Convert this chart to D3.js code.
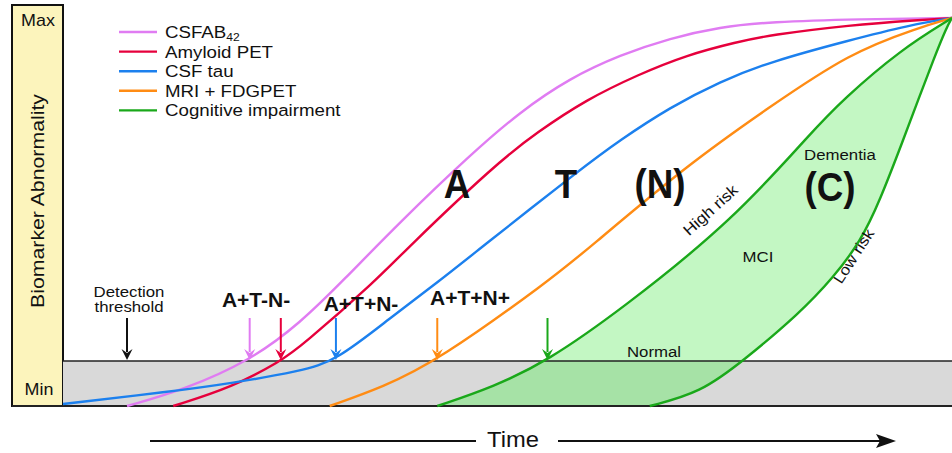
<!DOCTYPE html>
<html>
<head>
<meta charset="utf-8">
<style>
  body { margin: 0; background: #fff; }
  svg { display: block; font-family: "Liberation Sans", Arial, sans-serif; }
</style>
<script src="https://cdn.jsdelivr.net/npm/d3@7"></script>
</head>
<body>
<svg width="952" height="453"></svg>
<script>
// --- data (time 0..100, abnormality 0=min .. 100=max) ---
var seriesNames = ["CSFAB42", "Amyloid PET", "CSF tau", "MRI + FDGPET", "Cognitive impairment"];
var seriesColors = ["#e07cf2", "#e6003c", "#1c80ee", "#ff8c14", "#1aa81a"];
var threshold = 11.6;

var csfAb42 = [[7.2,0],[13.5,4.1],[21.0,11.6],[26.7,21.4],[31.5,32.3],[37.9,47.4],[45.8,64.7],[51.4,75.8],[57.0,84.5],[62.7,90.5],[68.3,94.8],[73.9,97.7],[79.5,99.0],[89.7,99.7],[100,100]];
var amyloidPet = [[12.4,0],[19.1,4.9],[24.5,11.6],[26.7,15.2],[35.3,32.5],[38.5,40.2],[48.8,62.6],[53.3,70.5],[58.9,79.0],[64.6,85.3],[70.2,90.5],[75.8,93.8],[79.5,95.6],[88.5,98.2],[96.4,99.5],[100,100]];
var csfTau = [[0,0.5],[11.7,3.6],[19.1,5.9],[26.7,9.0],[30.7,11.6],[36.8,22.7],[42.5,32.5],[46.7,40.2],[58.2,61.0],[62.7,68.6],[68.3,77.0],[73.9,83.6],[79.5,88.7],[88.5,94.3],[95.3,98.2],[100,100]];
var mriFdg = [[30.0,0],[36.0,4.9],[42.1,11.6],[54.8,32.5],[58.9,40.2],[70.2,62.1],[79.5,77.1],[88.5,91.0],[96.1,97.4],[100,100]];
var cogHighRisk = [[42.1,0],[48.4,4.9],[54.5,11.6],[62.7,24.7],[75.4,47.9],[84.4,71.1],[87.7,78.9],[94.2,91.8],[100,100]];
var cogLowRisk = [[66.0,0],[71.7,3.4],[76.5,11.6],[82.9,24.0],[86.6,33.0],[89.7,42.3],[91.9,53.0],[94.5,68.5],[96.2,78.9],[97.9,89.2],[99.4,97.7],[100,100]];

var arrowTimes = [21.0, 24.5, 30.7, 42.1, 54.5];
var detectionTime = 7.2;
var stageLabels = ["A+T-N-", "A+T+N-", "A+T+N+"];
var bigLabels = ["A", "T", "(N)", "(C)"];

// --- layout ---
var svg = d3.select("svg");
var x = d3.scaleLinear().domain([0, 100]).range([63, 952]);
var y = d3.scaleLinear().domain([0, 100]).range([406, 18]);
var line = d3.line().x(function(d) { return x(d[0]); }).y(function(d) { return y(d[1]); }).curve(d3.curveBasis);

// yellow y-axis panel
svg.append("rect").attr("x", 12).attr("y", 5).attr("width", 51).attr("height", 401)
  .attr("fill", "#fcf4bc").attr("stroke", "#111").attr("stroke-width", 2);

function label(px, py, str, size, rot, weight, sx) {
  var t = svg.append("text")
    .attr("transform", "translate(" + px + "," + py + ")" + (rot ? " rotate(" + rot + ")" : "") + " scale(" + (sx || 1.12) + ",1)")
    .attr("text-anchor", "middle").attr("font-size", size).attr("fill", "#111")
    .attr("font-weight", weight || "normal").text(str);
  return t;
}
label(38, 26, "Max", 16);
label(39, 395, "Min", 16);
label(44, 201, "Biomarker Abnormality", 19, -90);

// gray sub-threshold band
svg.append("rect").attr("x", x(0)).attr("y", y(threshold)).attr("width", x(100) - x(0))
  .attr("height", y(0) - y(threshold)).attr("fill", "#d9d9d9");

// cognitive impairment zone between high and low risk
var zonePath = line(cogHighRisk) + "L" + line(cogLowRisk.slice().reverse()).slice(1) + "Z";
svg.append("path").attr("d", zonePath).attr("fill", "#c3f7c3");
svg.append("clipPath").attr("id", "band").append("rect")
  .attr("x", x(0)).attr("y", y(threshold)).attr("width", x(100) - x(0)).attr("height", y(0) - y(threshold));
svg.append("path").attr("d", zonePath).attr("fill", "#a6e2a6").attr("clip-path", "url(#band)");

// threshold and baseline
svg.append("line").attr("x1", x(0)).attr("x2", x(100)).attr("y1", y(threshold)).attr("y2", y(threshold))
  .attr("stroke", "#222").attr("stroke-width", 1.6);
svg.append("line").attr("x1", 12).attr("x2", x(100)).attr("y1", y(0)).attr("y2", y(0))
  .attr("stroke", "#222").attr("stroke-width", 2);

// curves
var curves = [csfAb42, amyloidPet, csfTau, mriFdg, cogHighRisk, cogLowRisk];
var curveColor = [0, 1, 2, 3, 4, 4];
curves.forEach(function(c, i) {
  svg.append("path").attr("d", line(c)).attr("fill", "none")
    .attr("stroke", seriesColors[curveColor[i]]).attr("stroke-width", 2.4);
});

// arrows to threshold crossings
function arrow(t, color) {
  var ax = x(t), y1 = 318, y2 = y(threshold) - 1;
  svg.append("line").attr("x1", ax).attr("x2", ax).attr("y1", y1).attr("y2", y2 - 8)
    .attr("stroke", color).attr("stroke-width", 2);
  svg.append("path").attr("d", "M" + (ax - 5.5) + "," + (y2 - 11) + "L" + ax + "," + (y2 - 7) + "L" + (ax + 5.5) + "," + (y2 - 11) + "L" + ax + "," + y2 + "Z")
    .attr("fill", color);
}
arrow(detectionTime, "#111");
arrowTimes.forEach(function(t, i) { arrow(t, seriesColors[i]); });

label(129, 297, "Detection", 15);
label(129, 312, "threshold", 15);

// stage labels
var stagePos = [[256, 307], [361, 311], [470, 305]];
stageLabels.forEach(function(s, i) { label(stagePos[i][0], stagePos[i][1], s, 21, 0, "bold", 1); });
var bigPos = [[457, 198], [566, 198], [660, 198], [830, 201]];
bigLabels.forEach(function(s, i) { label(bigPos[i][0], bigPos[i][1], s, 40, 0, "bold", 0.92); });

label(654, 357, "Normal", 15);
label(758, 262, "MCI", 15);
label(840, 160, "Dementia", 15);
label(714, 214, "High risk", 15.5, -42);
label(858, 259, "Low risk", 15, -57);

// legend
var legend = svg.append("g");
seriesNames.forEach(function(name, i) {
  var ly = 32 + i * 19.6;
  legend.append("line").attr("x1", 119).attr("x2", 157).attr("y1", ly).attr("y2", ly)
    .attr("stroke", seriesColors[i]).attr("stroke-width", 2.4);
  var t = legend.append("text").attr("transform", "translate(165," + (ly + 6) + ") scale(1.1,1)")
    .attr("font-size", 17).attr("fill", "#111");
  if (name === "CSFAB42") {
    t.append("tspan").text("CSFAB");
    t.append("tspan").attr("font-size", 11).attr("dy", 3).text("42");
  } else {
    t.text(name);
  }
});

// time arrow
svg.append("line").attr("x1", 150).attr("x2", 476).attr("y1", 441).attr("y2", 441).attr("stroke", "#111").attr("stroke-width", 1.8);
svg.append("line").attr("x1", 558).attr("x2", 882).attr("y1", 441).attr("y2", 441).attr("stroke", "#111").attr("stroke-width", 1.8);
svg.append("path").attr("d", "M876,434L896,441L876,448L880,441Z").attr("fill", "#111");
label(513, 447, "Time", 22, 0, "normal", 1.08);
</script>
</body>
</html>
